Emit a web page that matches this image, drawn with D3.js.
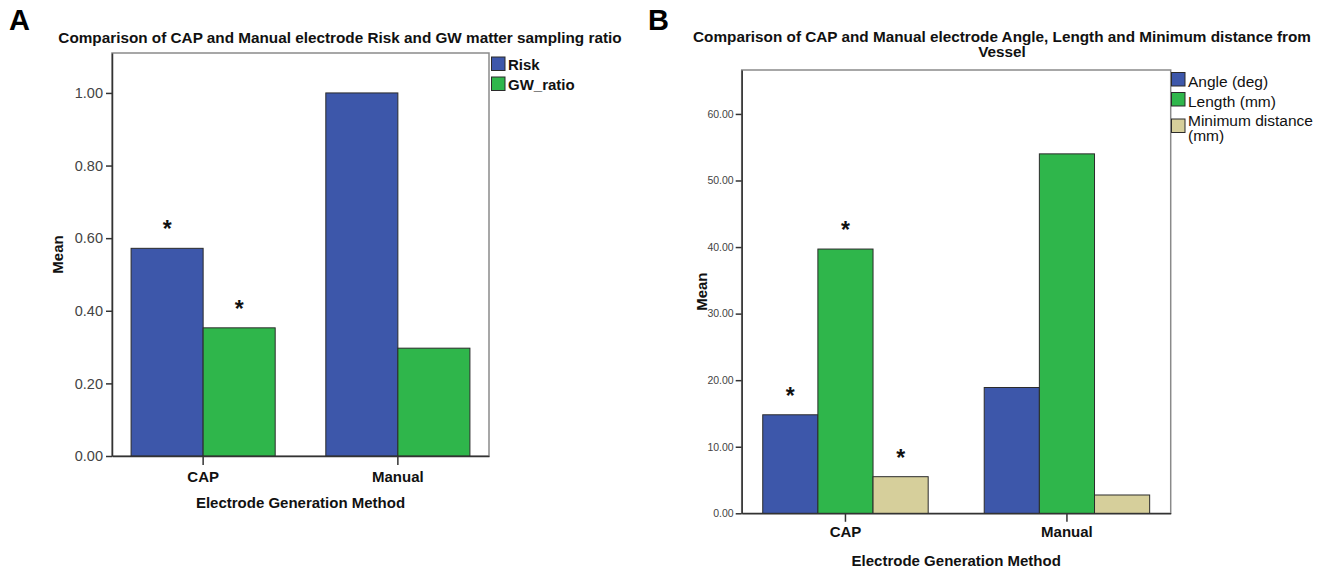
<!DOCTYPE html>
<html>
<head>
<meta charset="utf-8">
<script src="https://cdn.jsdelivr.net/npm/d3@7"></script>
<style>
  html, body { margin: 0; padding: 0; background: #fff; }
  svg { display: block; font-family: "Liberation Sans", Arial, sans-serif; }
</style>
</head>
<body>
<svg id="chart" width="1340" height="572"></svg>
<script>
// ---------- Data ----------
const categories = ["CAP", "Manual"];

// Panel A
const seriesA = ["Risk", "GW_ratio"];
const riskMeans = [0.572, 1.0];
const gwRatioMeans = [0.353, 0.297];
const riskSignificant = [true, false];
const gwRatioSignificant = [true, false];
const ticksA = [0, 0.2, 0.4, 0.6, 0.8, 1.0];

// Panel B
const seriesB = ["Angle (deg)", "Length (mm)", "Minimum distance (mm)"];
const angleMeans = [14.8, 18.9];
const lengthMeans = [39.7, 54.0];
const minDistanceMeans = [5.5, 2.75];
const angleSignificant = [true, false];
const lengthSignificant = [true, false];
const minDistanceSignificant = [true, false];
const ticksB = [0, 10, 20, 30, 40, 50, 60];

const colors = ["#3d57aa", "#2fb64b", "#d6cf9b"];

const svg = d3.select("#chart");

function panel(opts) {
  const g = svg.append("g");
  const { left, right, top, bottom } = opts.box;
  const x0 = d3.scaleBand().domain(categories).range([left, right])
    .paddingInner(opts.padInner).paddingOuter(opts.padOuter);
  const x1 = d3.scaleBand().domain(opts.series.map((d, i) => i)).range([0, x0.bandwidth()]);
  const y = d3.scaleLinear().domain([0, opts.yMax]).range([bottom, top]);

  // frame
  g.append("rect").attr("x", left).attr("y", top)
    .attr("width", right - left).attr("height", bottom - top)
    .attr("fill", "none").attr("stroke", "#8a8a8a").attr("stroke-width", 1.5);

  // bars
  const rows = [];
  categories.forEach((c, ci) => {
    opts.values.forEach((vals, si) => {
      rows.push({ c, si, v: vals[ci], sig: opts.sig[si][ci] });
    });
  });
  g.selectAll("rect.bar").data(rows).enter().append("rect")
    .attr("class", "bar")
    .attr("x", d => x0(d.c) + x1(d.si))
    .attr("width", x1.bandwidth())
    .attr("y", d => y(d.v))
    .attr("height", d => y(0) - y(d.v))
    .attr("fill", d => colors[d.si])
    .attr("stroke", "#2b2b2b").attr("stroke-width", 1);

  // significance stars
  g.selectAll("text.star").data(rows.filter(d => d.sig)).enter().append("text")
    .attr("class", "star")
    .attr("x", d => x0(d.c) + x1(d.si) + x1.bandwidth() / 2)
    .attr("y", d => y(d.v) - 24 + 13)
    .attr("text-anchor", "middle")
    .attr("font-size", 23).attr("font-weight", "bold").attr("fill", "#111")
    .text("*");

  // y axis
  const yAxis = d3.axisLeft(y).tickValues(opts.ticks).tickFormat(d3.format(".2f"))
    .tickSizeInner(6).tickSizeOuter(0).tickPadding(opts.tickPad);
  const ya = g.append("g").attr("transform", `translate(${left},0)`).call(yAxis);
  ya.select(".domain").attr("stroke", "#333").attr("stroke-width", 1.5);
  ya.selectAll(".tick line").attr("stroke", "#333").attr("stroke-width", 1.5);
  ya.selectAll(".tick text").attr("font-size", opts.tickFont)
    .attr("font-family", "Liberation Sans, Arial, sans-serif").attr("fill", "#444");

  // x axis
  const xAxis = d3.axisBottom(x0).tickSizeInner(opts.xTick).tickSizeOuter(0).tickPadding(opts.xPad);
  const xa = g.append("g").attr("transform", `translate(0,${bottom})`).call(xAxis);
  xa.select(".domain").attr("stroke", "#333").attr("stroke-width", 1.5);
  xa.selectAll(".tick line").attr("stroke", "#333").attr("stroke-width", 1.5);
  xa.selectAll(".tick text").attr("font-size", 15).attr("font-weight", "bold")
    .attr("font-family", "Liberation Sans, Arial, sans-serif").attr("fill", "#111");

  // axis titles
  g.append("text").attr("x", (left + right) / 2).attr("y", opts.xTitleY)
    .attr("text-anchor", "middle").attr("font-size", 15).attr("font-weight", "bold")
    .attr("fill", "#111").text("Electrode Generation Method");
  g.append("text")
    .attr("transform", `translate(${opts.yTitleX},${(top + bottom) / 2}) rotate(-90)`)
    .attr("text-anchor", "middle").attr("font-size", 15).attr("font-weight", "bold")
    .attr("fill", "#111").text("Mean");

  // titles
  opts.title.forEach((t, i) => {
    g.append("text").attr("x", opts.titleX).attr("y", opts.titleY + i * 15)
      .attr("text-anchor", "middle").attr("font-size", 15.3).attr("font-weight", "bold")
      .attr("fill", "#111").text(t);
  });

  // panel letter
  g.append("text").attr("x", opts.letterX).attr("y", 30)
    .attr("font-size", 29).attr("font-weight", "bold").attr("fill", "#000").text(opts.letter);

  // legend
  const lg = g.append("g");
  opts.legend.forEach((item, i) => {
    lg.append("rect").attr("x", opts.legendX).attr("y", item.sy)
      .attr("width", 13.5).attr("height", 13.5)
      .attr("fill", colors[i]).attr("stroke", "#2b2b2b").attr("stroke-width", 1);
    item.lines.forEach((ln, j) => {
      lg.append("text").attr("x", opts.legendX + 16.5).attr("y", item.ty + j * 14.5)
        .attr("font-size", opts.legendFont).attr("font-weight", opts.legendWeight)
        .attr("fill", "#111").text(ln);
    });
  });
}

panel({
  box: { left: 112, right: 489, top: 53, bottom: 456 },
  padInner: 0.26, padOuter: 0.098,
  series: seriesA,
  values: [riskMeans, gwRatioMeans],
  sig: [riskSignificant, gwRatioSignificant],
  yMax: 1.11,
  ticks: ticksA, tickFont: 14.5, tickPad: 3,
  xTick: 9, xPad: 6,
  xTitleY: 508, yTitleX: 63,
  title: ["Comparison of CAP and Manual electrode Risk and GW matter sampling ratio"],
  titleX: 340, titleY: 43,
  letter: "A", letterX: 9,
  legendX: 491.5, legendFont: 15, legendWeight: "bold",
  legend: [
    { sy: 57, ty: 69.5, lines: [seriesA[0]] },
    { sy: 77, ty: 89.5, lines: [seriesA[1]] }
  ]
});

panel({
  box: { left: 741.7, right: 1170.7, top: 70, bottom: 513.3 },
  padInner: 0.253, padOuter: 0.095,
  series: seriesB,
  values: [angleMeans, lengthMeans, minDistanceMeans],
  sig: [angleSignificant, lengthSignificant, minDistanceSignificant],
  yMax: 66.6,
  ticks: ticksB, tickFont: 10.5, tickPad: 2,
  xTick: 8.5, xPad: 5,
  xTitleY: 565.5, yTitleX: 707,
  title: ["Comparison of CAP and Manual electrode Angle, Length and Minimum distance from", "Vessel"],
  titleX: 1002, titleY: 42,
  letter: "B", letterX: 648,
  legendX: 1171.5, legendFont: 15.5, legendWeight: "normal",
  legend: [
    { sy: 72.5, ty: 86.5, lines: ["Angle (deg)"] },
    { sy: 92.5, ty: 106.5, lines: ["Length (mm)"] },
    { sy: 119, ty: 126, lines: ["Minimum distance", "(mm)"] }
  ]
});
</script>
</body>
</html>
